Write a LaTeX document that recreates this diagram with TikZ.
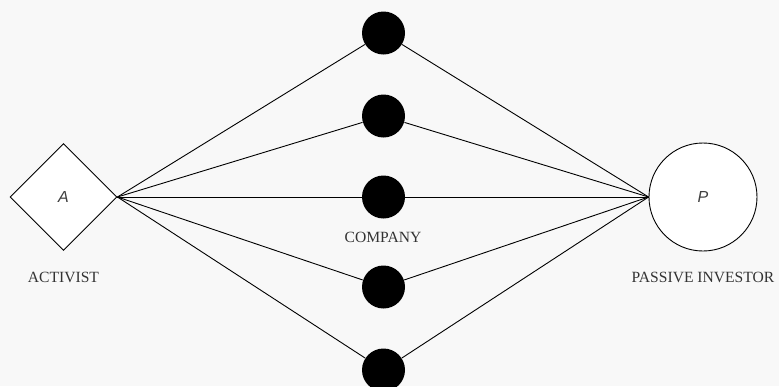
\documentclass[tikz,border=0pt]{standalone}
\usepackage{fontspec}
\setmainfont{Liberation Serif}
\newfontfamily\labelfont{Liberation Sans}
\usetikzlibrary{shapes.geometric}
\definecolor{bgcol}{RGB}{248,248,248}

\begin{document}
\begin{tikzpicture}[x=1pt, y=-1pt, line width=0.9pt,
  company/.style={circle, fill=black, minimum size=43pt, inner sep=0pt},
  caption/.style={font=\fontsize{15.6}{18}\selectfont, text=black!80},
  letter/.style={font=\labelfont\itshape\fontsize{16}{18}\selectfont, text=black!75}]

% canvas
\fill[bgcol] (0,0) rectangle (779,386);
\useasboundingbox (0,0) rectangle (779,386);

% investors
\node[diamond, draw, fill=white, minimum size=107pt, inner sep=0pt, letter] (act) at (63.5,197) {A};
\node[circle, draw, fill=white, minimum size=108pt, inner sep=0pt, letter] (pas) at (703,197) {P};

% companies
\foreach \i/\y in {1/33, 2/116, 3/197, 4/287, 5/370}
  \node[company] (c\i) at (383.5,\y) {};

% captions
\node[caption] (comp) at (383,237.5) {COMPANY};
\node[caption] (actlab) at (63.5,277.5) {ACTIVIST};
\node[caption] (paslab) at (703,277.5) {PASSIVE INVESTOR};

% holdings
\foreach \i in {1,...,5} {
  \draw (act.east) -- (c\i);
  \draw (c\i) -- (pas.west);
}
\end{tikzpicture}
\end{document}
